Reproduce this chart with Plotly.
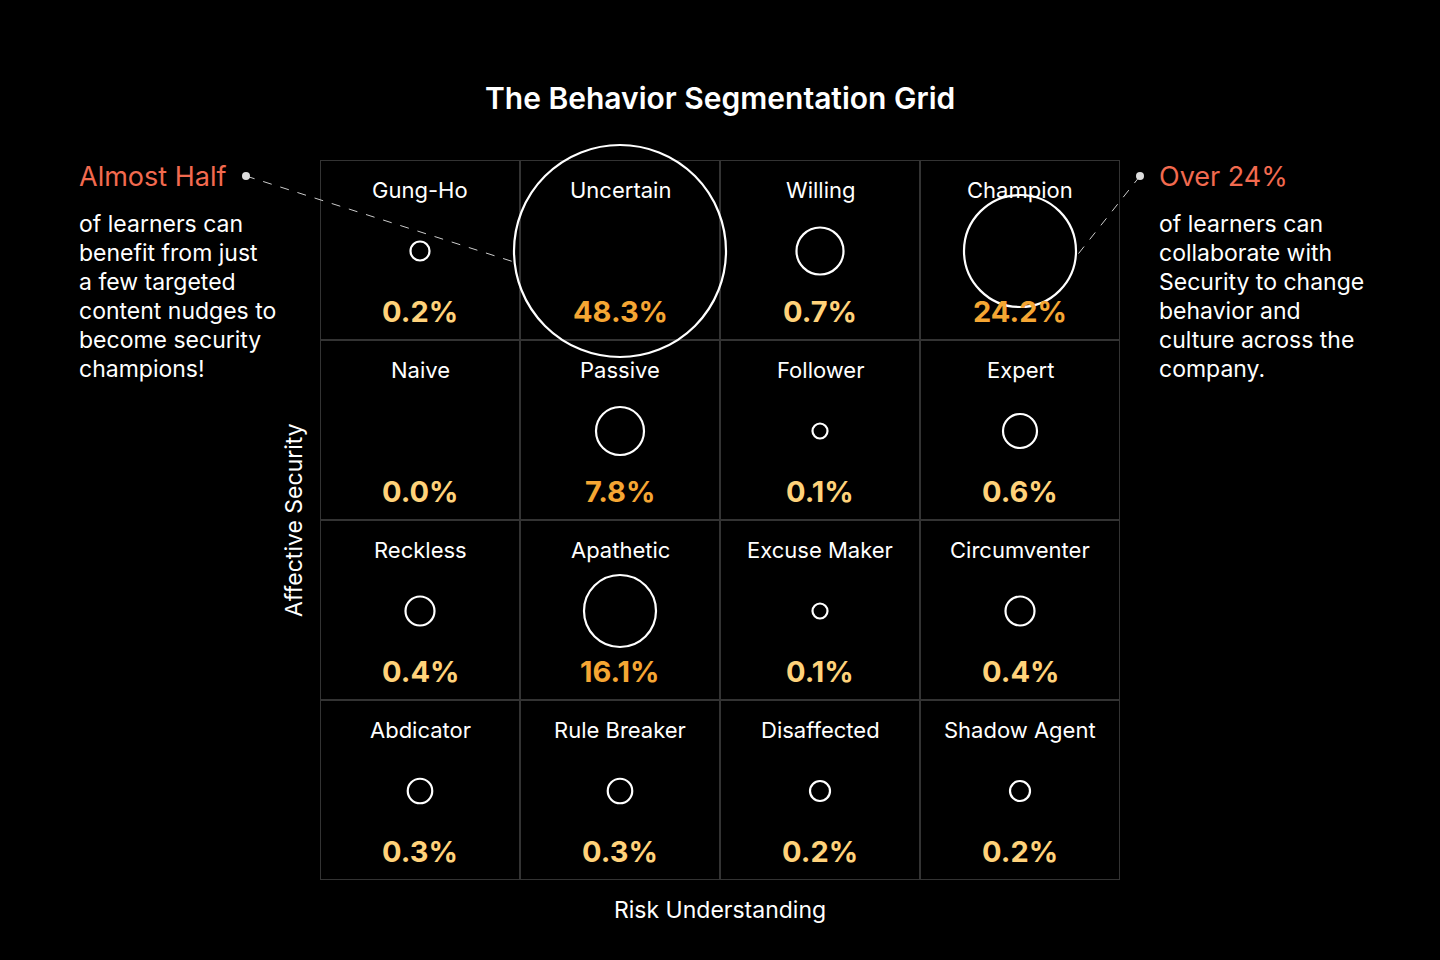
import plotly.graph_objects as go

# ---------------- data ----------------
segments = [
    ["Gung-Ho", "Uncertain", "Willing", "Champion"],
    ["Naive", "Passive", "Follower", "Expert"],
    ["Reckless", "Apathetic", "Excuse Maker", "Circumventer"],
    ["Abdicator", "Rule Breaker", "Disaffected", "Shadow Agent"],
]
shares = [
    [0.2, 48.3, 0.7, 24.2],
    [0.0, 7.8, 0.1, 0.6],
    [0.4, 16.1, 0.1, 0.4],
    [0.3, 0.3, 0.2, 0.2],
]
# relative bubble magnitude
bubble_weight = [
    [19, 212, 47, 112],
    [0, 48, 15, 34],
    [29, 72, 15, 29],
    [24.5, 24.5, 20, 20],
]
title_text = "The Behavior Segmentation Grid"
x_title = "Risk Understanding"
y_title = "Affective Security"
left_head = "Almost Half"
left_body = ["of learners can", "benefit from just", "a few targeted",
             "content nudges to", "become security", "champions!"]
right_head = "Over 24%"
right_body = ["of learners can", "collaborate with", "Security to change",
              "behavior and", "culture across the", "company."]

# ---------------- style ----------------
FONT = "Inter"
BG = "#000000"
GRID = "#333333"
WHITE = "#ffffff"
ORANGE_LIGHT = "#FFD27A"
ORANGE_DARK = "#F5A633"
CORAL = "#F26A4F"
W, H = 1440, 960
L, R, T, B = 320, 320, 160, 80
NC, NR = 4, 4

fig = go.Figure()

# bubbles
xs, ys, ds = [], [], []
for r in range(NR):
    for c in range(NC):
        if bubble_weight[r][c] > 0:
            xs.append(c + 0.5)
            ys.append(r + 91 / 180)
            ds.append(bubble_weight[r][c])
fig.add_trace(go.Scatter(
    x=xs, y=ys, mode="markers",
    marker=dict(size=ds, sizemode="diameter", sizeref=1, opacity=1,
                color="rgba(0,0,0,0)", line=dict(color=WHITE, width=2.2)),
    hoverinfo="skip", showlegend=False, cliponaxis=False,
))

shapes = []
# grid lines
for i in range(NC + 1):
    shapes.append(dict(type="line", xref="x", yref="y", x0=i, x1=i, y0=0, y1=NR,
                       line=dict(color=GRID, width=2), layer="below"))
for j in range(NR + 1):
    shapes.append(dict(type="line", xref="x", yref="y", x0=0, x1=NC, y0=j, y1=j,
                       line=dict(color=GRID, width=2), layer="below"))


def px_to_paper_x(px):
    return (px - L) / (W - L - R)


def px_to_paper_y(py):
    return (H - B - py) / (H - T - B)


annotations = []
for r in range(NR):
    for c in range(NC):
        annotations.append(dict(
            x=c + 0.5, y=r + 30 / 180, xref="x", yref="y", text=segments[r][c],
            showarrow=False, font=dict(family=FONT, size=22, color=WHITE),
            xanchor="center", yanchor="middle"))
        v = shares[r][c]
        annotations.append(dict(
            x=c + 0.5, y=r + 151 / 180, xref="x", yref="y", text=f"{v:.1f}%",
            showarrow=False,
            font=dict(family=FONT, size=29, weight=700,
                      color=ORANGE_DARK if v >= 1 else ORANGE_LIGHT),
            xanchor="center", yanchor="middle"))

# title & axis titles
annotations.append(dict(x=0.5, y=px_to_paper_y(98), xref="paper", yref="paper", text=title_text,
                        showarrow=False, font=dict(family=FONT, size=30, weight=600, color=WHITE),
                        xanchor="center", yanchor="middle"))
annotations.append(dict(x=0.5, y=px_to_paper_y(910), xref="paper", yref="paper", text=x_title,
                        showarrow=False, font=dict(family=FONT, size=23, color=WHITE),
                        xanchor="center", yanchor="middle"))
annotations.append(dict(x=px_to_paper_x(294), y=0.5, xref="paper", yref="paper", text=y_title,
                        showarrow=False, textangle=-90, font=dict(family=FONT, size=23, color=WHITE),
                        xanchor="center", yanchor="middle"))

# side notes
for hx, head, body in [(77, left_head, left_body), (1157, right_head, right_body)]:
    annotations.append(dict(x=px_to_paper_x(hx), y=px_to_paper_y(176), xref="paper", yref="paper",
                            text=head, showarrow=False,
                            font=dict(family=FONT, size=27, color=CORAL),
                            xanchor="left", yanchor="middle"))
    for k, line in enumerate(body):
        annotations.append(dict(x=px_to_paper_x(hx), y=px_to_paper_y(224 + 29 * k),
                                xref="paper", yref="paper", text=line, showarrow=False,
                                font=dict(family=FONT, size=23, color=WHITE),
                                xanchor="left", yanchor="middle"))

# leader lines (paper coordinates) with dots
leaders = [((246, 176), (514, 262)), ((1140, 176), (1075, 258))]
for (x0, y0), (x1, y1) in leaders:
    shapes.append(dict(type="line", xref="paper", yref="paper",
                       x0=px_to_paper_x(x0), y0=px_to_paper_y(y0),
                       x1=px_to_paper_x(x1), y1=px_to_paper_y(y1),
                       line=dict(color="#cccccc", width=1, dash="dash")))
    shapes.append(dict(type="circle", xref="paper", yref="paper",
                       x0=px_to_paper_x(x0 - 4), x1=px_to_paper_x(x0 + 4),
                       y0=px_to_paper_y(y0 - 4), y1=px_to_paper_y(y0 + 4),
                       fillcolor="#dddddd", line=dict(width=0)))

fig.update_layout(
    width=W, height=H,
    margin=dict(l=L, r=R, t=T, b=B, pad=0),
    paper_bgcolor=BG, plot_bgcolor=BG,
    xaxis=dict(range=[0, NC], visible=False, fixedrange=True),
    yaxis=dict(range=[NR, 0], visible=False, fixedrange=True),
    shapes=shapes, annotations=annotations,
    showlegend=False,
)

fig.write_html("out.html", config={"displayModeBar": False})
